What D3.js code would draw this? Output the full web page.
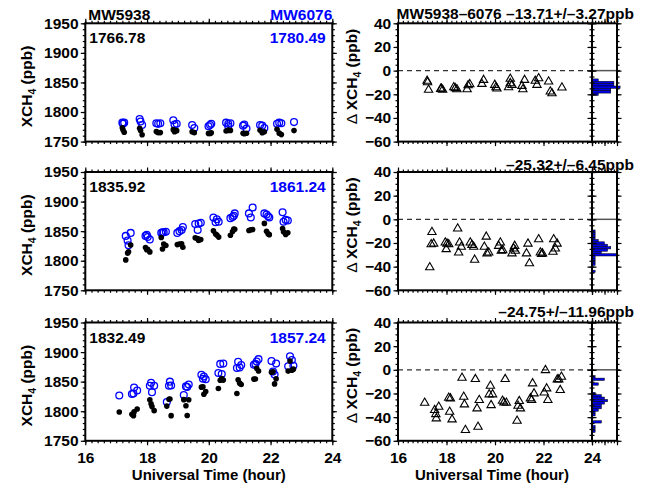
<!DOCTYPE html>
<html>
<head>
<meta charset="utf-8">
<script src="https://cdn.jsdelivr.net/npm/d3@7"></script>
<style>
body { margin: 0; background: #fff; }
svg text { font-family: "Liberation Sans", Arial, Helvetica, sans-serif; font-weight: bold; font-size: 15.5px; }
</style>
</head>
<body>
<svg id="chart" width="645" height="483"></svg>
<script>
// Observation times (UT hour) and XCH4 for the two windows, one set per panel.
var time1 = [17.20, 17.22, 17.26, 17.76, 17.79, 17.84, 18.30, 18.36, 18.43, 18.85, 18.89, 18.96, 19.46, 19.53,
    19.99, 20.04, 20.08, 20.56, 20.63, 20.63, 20.70, 21.11, 21.15, 21.22, 21.66, 21.73, 21.80, 22.21, 22.28, 22.35, 22.76];
var mw6076_1 = [1782, 1780, 1782, 1788, 1784, 1778, 1781, 1780, 1781, 1786, 1779, 1780, 1778, 1773,
    1776, 1778, 1780, 1782, 1776, 1780, 1781, 1777, 1779, 1772, 1778, 1777, 1773, 1780, 1782, 1781, 1783];
var mw5938_1 = [1773.3, 1770.1, 1765.7, 1772.5, 1768.8, 1761.7, 1766.9, 1765.1, 1765.2, 1770.2, 1766.6, 1768.5, 1766.7, 1765.1,
    1763.9, 1763.9, 1764.8, 1767.9, 1769.0, 1769.3, 1768.9, 1764.0, 1763.2, 1764.1, 1769.3, 1764.9, 1766.5, 1770.7, 1764.3, 1761.8, 1768.6];

var time2 = [17.31, 17.37, 17.40, 17.47, 17.95, 17.99, 18.02, 18.09, 18.46, 18.50, 18.54, 18.61, 18.98, 19.05, 19.12, 19.16,
    19.56, 19.64, 19.67, 19.74, 20.15, 20.22, 20.26, 20.32, 20.70, 20.77, 20.81, 20.84, 21.30, 21.36, 21.42,
    21.80, 21.87, 21.92, 21.96, 22.39, 22.42, 22.49, 22.56];
var mw6076_2 = [1842, 1834, 1826, 1847, 1842, 1844, 1840, 1836, 1847, 1848, 1848, 1849, 1847, 1850, 1852, 1857,
    1862, 1852, 1863, 1864, 1873, 1865, 1870, 1866, 1872, 1874, 1876, 1880, 1880, 1873, 1890,
    1880, 1878, 1875, 1873, 1882, 1866, 1869, 1868];
var mw5938_2 = [1801.4, 1812.9, 1815.2, 1826.4, 1822.3, 1818.7, 1819.4, 1814.9, 1839.2, 1819.9, 1828.3, 1825.7, 1827.3, 1828.3, 1828.7, 1822.8,
    1838.7, 1837.3, 1834.1, 1835.9, 1850.5, 1845.3, 1843.3, 1839.9, 1843.1, 1849.3, 1853.5, 1853.3, 1851.1, 1852.4, 1852.8,
    1863.1, 1849.9, 1845.6, 1844.1, 1854.5, 1849.1, 1844.3, 1847.4];

var time3 = [17.10, 17.51, 17.56, 17.58, 17.68, 18.09, 18.13, 18.16, 18.23, 18.64, 18.71, 18.74, 18.78, 19.19, 19.26, 19.30, 19.35,
    19.76, 19.81, 19.84, 19.90, 20.31, 20.37, 20.42, 20.47, 20.91, 20.95, 21.00, 21.05, 21.46, 21.51, 21.55, 21.61,
    22.03, 22.08, 22.13, 22.18, 22.57, 22.63, 22.69, 22.74];
var mw6076_3 = [1826.5, 1829, 1830, 1840, 1835, 1843, 1848, 1832, 1843, 1815.5, 1843, 1850, 1843.5, 1827.5, 1842, 1841, 1845,
    1861.5, 1855, 1858.5, 1854, 1864.5, 1880, 1863, 1880.5, 1873, 1883.5, 1874, 1878, 1878.5, 1880, 1884, 1888,
    1885, 1867, 1862, 1880.5, 1876, 1893, 1886.5, 1877];
var mw5938_3 = [1798.6, 1794.9, 1792.5, 1798.9, 1803.7, 1819.3, 1812.5, 1807.8, 1801.0, 1808.7, 1820.2, 1820.7, 1792.5, 1819.6, 1809.3, 1792.8, 1819.4,
    1840.7, 1841.5, 1828.6, 1833.2, 1838.3, 1852.4, 1855.1, 1852.6, 1829.9, 1853.1, 1847.5, 1845.3, 1854.3, 1854.4, 1872.5, 1868.0,
    1865.8, 1866.7, 1846.2, 1854.9, 1867.8, 1884.8, 1869.3, 1871.1];

// Mean values and difference statistics printed on the panels.
var mean5938 = ["1766.78", "1835.92", "1832.49"];
var mean6076 = ["1780.49", "1861.24", "1857.24"];
var diffText = ["MW5938\u20136076 \u201313.71+/\u20133.27ppb", "\u201325.32+/\u20136.45ppb", "\u201324.75+/\u201311.96ppb"];

// Histogram of differences: bins 2 ppb wide, counted downward from the start value.
var histStart = [-7, -9, -5];
var histCounts1 = [2, 7, 7, 9, 6, 6, 2];
var histCounts2 = [1, 1, 1, 1, 2, 4, 5, 6, 5, 3, 8, 1, 1, 1, 1, 0, 0, 1];
var histCounts3 = [1, 4, 0, 2, 0, 0, 0, 1, 3, 4, 5, 4, 3, 3, 2, 1, 1, 0, 0, 3, 0, 1, 1, 1];

var xTicks = [16, 18, 20, 22, 24];
var yTicksL = [1750, 1800, 1850, 1900, 1950];
var yTicksR = [-60, -40, -20, 0, 20, 40];

var panels = [
    {t: time1, a: mw5938_1, b: mw6076_1, h: histCounts1},
    {t: time2, a: mw5938_2, b: mw6076_2, h: histCounts2},
    {t: time3, a: mw5938_3, b: mw6076_3, h: histCounts3}
];

var svg = d3.select("#chart");
var tops = [23.3, 172, 322.5], ph = 118.3;
var titleY = [18.5, 170, 316.5];
var blue = "#0000ff";

var xL = d3.scaleLinear().domain([16, 24]).range([85.3, 332.3]);
var xR = d3.scaleLinear().domain([16, 24]).range([398, 592]);
var xH = d3.scaleLinear().domain([0, 8]).range([592, 617]);

// Ticks on all four sides, pointing out; labels only left/bottom when asked.
function axes(g, xs, ys, xMaj, xMin, yMaj, yMin, xLab, yLab) {
    var xr = xs.range(), yr = ys.range();
    var sides = [
        ["Bottom", "translate(0," + yr[0] + ")", xs, xMaj, xMin, xLab],
        ["Top", "translate(0," + yr[1] + ")", xs, xMaj, xMin, false],
        ["Left", "translate(" + xr[0] + ",0)", ys, yMaj, yMin, yLab],
        ["Right", "translate(" + xr[1] + ",0)", ys, yMaj, yMin, false]
    ];
    sides.forEach(function (s) {
        var make = d3["axis" + s[0]];
        var pad = s[0] == "Bottom" ? 6.5 : 2.3;
        g.append("g").attr("transform", s[1])
            .call(make(s[2]).tickValues(s[4]).tickSize(2.5).tickFormat(""));
        g.append("g").attr("transform", s[1])
            .call(make(s[2]).tickValues(s[3]).tickSize(4.5).tickPadding(pad)
                .tickFormat(s[5] ? d3.format("d") : ""));
    });
    g.selectAll(".domain").remove();
    g.selectAll(".tick line").attr("stroke", "#000").attr("stroke-width", 1.2);
    g.selectAll(".tick text").attr("fill", "#000");
    g.append("rect")
        .attr("x", xr[0]).attr("y", yr[1])
        .attr("width", xr[1] - xr[0]).attr("height", yr[0] - yr[1])
        .attr("fill", "none").attr("stroke", "#000").attr("stroke-width", 2);
}

function yLabel(x, y, delta) {
    var t = svg.append("text").attr("text-anchor", "middle")
        .attr("transform", "translate(" + x + "," + y + ") rotate(-90)");
    if (delta) t.append("tspan").attr("font-weight", "normal").text("\u0394 ");
    t.append("tspan").text("XCH");
    t.append("tspan").attr("font-size", 10.5).attr("dy", 4).text("4");
    t.append("tspan").attr("dy", -4).text(" (ppb)");
}

var xMinor = d3.range(16, 24.001, 0.2);

panels.forEach(function (p, i) {
    var top = tops[i], bot = top + ph, last = i == 2;
    var yL = d3.scaleLinear().domain([1750, 1950]).range([bot, top]);
    var yR = d3.scaleLinear().domain([-60, 40]).range([bot, top]);
    var diff = p.a.map(function (v, k) { return v - p.b[k]; });

    // left: XCH4 of both windows
    var gl = svg.append("g");
    axes(gl, xL, yL, xTicks, xMinor, yTicksL, d3.range(1750, 1951, 10), last, true);

    gl.selectAll(".b").data(p.t).enter().append("circle")
        .attr("cx", function (d) { return xL(d); })
        .attr("cy", function (d, k) { return yL(p.b[k]); })
        .attr("r", 3.4).attr("fill", "none").attr("stroke", blue).attr("stroke-width", 1.3);
    gl.selectAll(".a").data(p.t).enter().append("circle")
        .attr("cx", function (d) { return xL(d); })
        .attr("cy", function (d, k) { return yL(p.a[k]); })
        .attr("r", 2.8).attr("fill", "#000");

    svg.append("text").attr("x", 89.3).attr("y", top + 20).text(mean5938[i]);
    svg.append("text").attr("x", 325.7).attr("y", top + 20).attr("text-anchor", "end")
        .attr("fill", blue).text(mean6076[i]);
    yLabel(31.5, (top + bot) / 2 + 4, false);

    // right: difference and its histogram
    var gr = svg.append("g");
    gr.append("line").attr("x1", xR(16)).attr("x2", xR(24)).attr("y1", yR(0)).attr("y2", yR(0))
        .attr("stroke", "#333").attr("stroke-width", 1.2).attr("stroke-dasharray", "5,4");
    gr.append("line").attr("x1", xH(0)).attr("x2", xH(0) + 28).attr("y1", yR(0)).attr("y2", yR(0))
        .attr("stroke", "#555").attr("stroke-width", 1.5);

    var bins = p.h.map(function (c, k) { return {y0: histStart[i] - 2 * k, c: c}; })
        .filter(function (d) { return d.c > 0; });
    gr.selectAll(".bar").data(bins).enter().append("rect")
        .attr("x", xH(0))
        .attr("y", function (d) { return yR(d.y0); })
        .attr("width", function (d) { return xH(d.c) - xH(0); })
        .attr("height", function (d) { return yR(d.y0 - 2) - yR(d.y0); })
        .attr("fill", "#0000e6").attr("stroke", "#000").attr("stroke-width", 0.5);

    axes(gr, xR, yR, xTicks, xMinor, yTicksR, d3.range(-60, 41, 5), last, true);
    var gh = svg.append("g");
    axes(gh, xH, yR, [0, 4, 8], d3.range(0, 8.01, 1), yTicksR, d3.range(-60, 41, 5), false, false);

    gr.selectAll(".tri").data(p.t).enter().append("path")
        .attr("d", d3.symbol().type(d3.symbolTriangle).size(30))
        .attr("transform", function (d, k) { return "translate(" + xR(d) + "," + yR(diff[k]) + ")"; })
        .attr("fill", "none").attr("stroke", "#000").attr("stroke-width", 1.1);

    svg.append("text").attr("x", 634).attr("y", titleY[i]).attr("text-anchor", "end").text(diffText[i]);
    yLabel(357, (top + bot) / 2 - 6, true);
});

svg.append("text").attr("x", 88.3).attr("y", 19.5).text("MW5938");
svg.append("text").attr("x", 332.3).attr("y", 19.5).attr("text-anchor", "end").attr("fill", blue).text("MW6076");

svg.append("text").attr("x", 208.8).attr("y", 480).attr("text-anchor", "middle")
    .style("font-size", "15px").text("Universal Time (hour)");
svg.append("text").attr("x", 492).attr("y", 480).attr("text-anchor", "middle")
    .style("font-size", "15px").text("Universal Time (hour)");
</script>
</body>
</html>
